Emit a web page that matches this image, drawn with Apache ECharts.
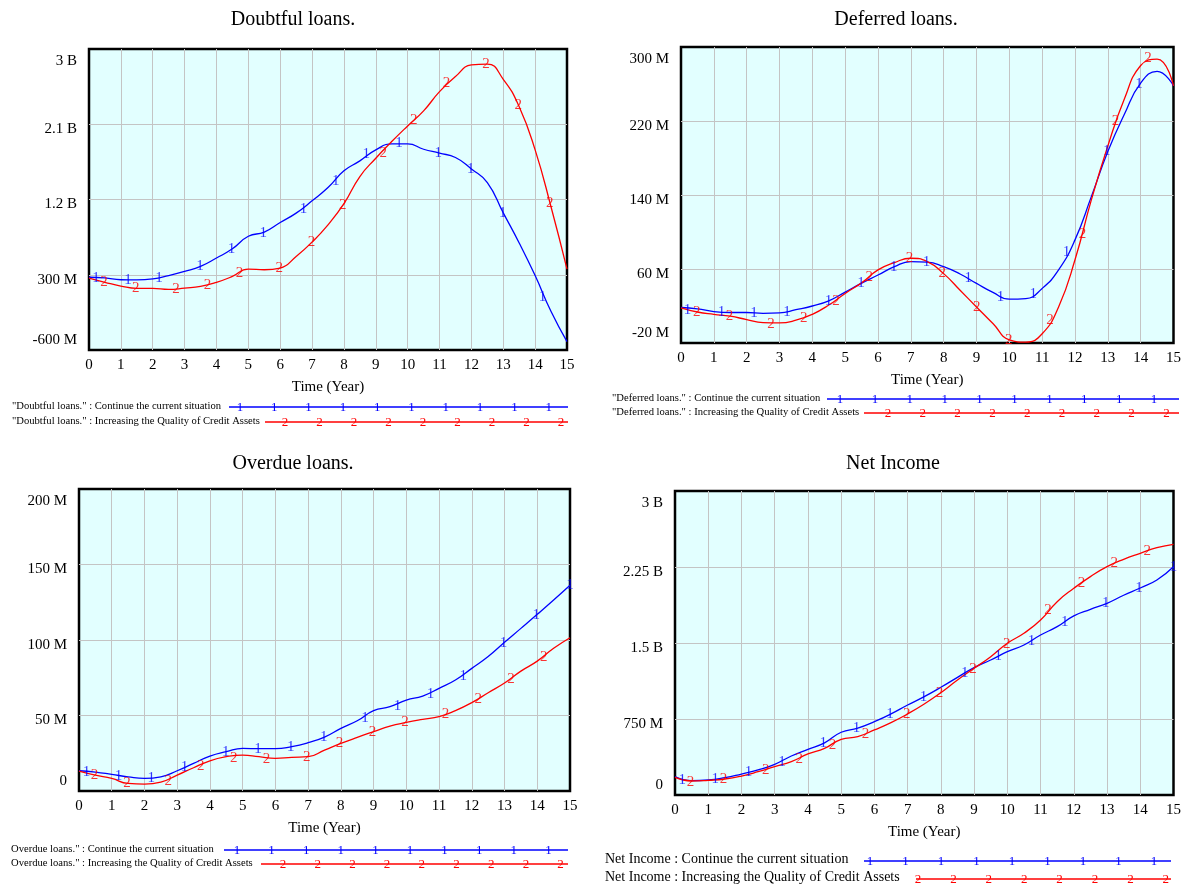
<!DOCTYPE html>
<html><head><meta charset="utf-8">
<script src="https://cdn.jsdelivr.net/npm/echarts@6/dist/echarts.min.js"></script>
<style>html,body{margin:0;padding:0;background:#fff}#c{width:1184px;height:886px}</style>
</head><body><div id="c"></div>
<script>
// ---------- DATA (values in millions) ----------
var times = [0,0.5,1,1.5,2,2.5,3,3.5,4,4.5,5,5.5,6,6.5,7,7.5,8,8.5,9,9.5,10,10.5,11,11.5,12,12.5,13,13.5,14,14.5,15];
var xTicks = ['0','1','2','3','4','5','6','7','8','9','10','11','12','13','14','15'];

// Doubtful loans
var doubtfulCurrent = [270,262,240,238,250,290,340,400,500,610,760,810,925,1037,1184,1343,1543,1662,1793,1865,1865,1801,1754,1702,1566,1403,1040,680,290,-140,-500];
var doubtfulQuality = [260,210,165,137,137,125,140,160,209,280,368,360,380,519,690,897,1150,1475,1694,1893,2080,2260,2490,2670,2809,2820,2638,2310,1793,1110,368];
var doubtfulCurMarkT = [0.22,1.22,2.2,3.48,4.47,5.47,6.73,7.74,8.7,9.73,10.96,11.98,12.98,14.23];
var doubtfulCurMarkV = [265,237,256,400,607,802,1085,1423,1746,1873,1754,1566,1037,33];
var doubtfulQuaMarkT = [0.47,1.47,2.73,3.72,4.72,5.97,6.98,7.96,9.23,10.19,11.22,12.46,13.47,14.46];
var doubtfulQuaMarkV = [213,137,129,173,320,380,690,1136,1754,2152,2590,2821,2327,1156];
var doubtfulTickV = [-600,300,1200,2100,3000];
var doubtfulTickL = ['-600 M','300 M','1.2 B','2.1 B','3 B'];

// Deferred loans
var deferredCurrent = [18.4,17,14,13,13,12,12.5,16,20,25.6,35,44.7,53.5,62.5,68,67.5,62.5,54.6,44.4,34.7,27.4,28,39,59,91.5,138.5,187,227,261,273.6,258];
var deferredQuality = [18,13.5,11,9,5.3,2,1.7,4.6,11,21,33.6,45,59,67,71.6,68,55,37,19,1,-16.5,-19,-10,19,70,135,193,243.5,280,287,258];
var deferredCurMarkT = [0.2,1.23,2.22,3.23,4.49,5.48,6.48,7.48,8.75,9.73,10.73,11.74,12.97,13.95];
var deferredCurMarkV = [16,13,12.6,13.7,25.6,44.4,62.5,67.6,50,30,33,78,187,260];
var deferredQuaMarkT = [0.48,1.48,2.74,3.74,4.72,5.73,6.96,7.96,9.01,9.98,11.24,12.23,13.23,14.22];
var deferredQuaMarkV = [13.7,9,1,7.5,25.2,51,71.6,55.3,19,-16.4,5.3,97.6,220,288];
var deferredTickV = [-20,60,140,220,300];
var deferredTickL = ['-20 M','60 M','140 M','220 M','300 M'];

// Overdue loans
var overdueCurrent = [13.4,12.5,11,9.4,8.4,9.4,13.4,18.3,23.1,26,28.2,28,28,29.4,32,35.7,41.5,46.5,53.2,55.8,60.2,62.9,68,73.5,81.2,89,98.5,107.7,117,126.5,136.3];
var overdueQuality = [13.2,10.5,8.3,5,4.6,5.9,10.5,15.4,20,22.7,23.8,22.7,21.6,22.3,22.7,27.1,31.5,35.5,39.3,43,45.4,47.4,49.2,53.2,58.5,65.1,71.5,79.4,86,94.5,101.5];
var overdueCurMarkT = [0.23,1.21,2.21,3.22,4.48,5.47,6.47,7.48,8.74,9.73,10.74,11.74,12.97,13.97,15];
var overdueCurMarkV = [12.3,10.1,8.4,16,26,27.8,29.3,35.5,48.5,56.5,64.2,76.4,97.8,116.5,136.3];
var overdueQuaMarkT = [0.47,1.47,2.73,3.72,4.73,5.73,6.96,7.96,8.97,9.96,11.2,12.2,13.2,14.2];
var overdueQuaMarkV = [10.5,5,6.8,16.7,22,21.2,22.7,31.5,39.3,45.4,50.7,60.9,74.1,88.9];
var overdueTickV = [0,50,100,150,200];
var overdueTickL = ['0','50 M','100 M','150 M','200 M'];

// Net Income
var netCurrent = [181,142,148,171,207,247,303,385,451,515,619,660,724,800,888,971,1063,1161,1257,1332,1415,1480,1579,1661,1767,1832,1892,1971,2043,2122,2253];
var netQuality = [174,138,145,158,187,230,280,329,405,460,550,576,642,714,800,898,1010,1135,1250,1365,1497,1596,1727,1908,2040,2155,2253,2326,2385,2441,2474];
var netCurMarkT = [0.22,1.21,2.21,3.22,4.46,5.46,6.47,7.48,8.72,9.73,10.73,11.73,12.96,13.96,15];
var netCurMarkV = [148,158,224,329,510,658,800,971,1201,1372,1523,1711,1892,2040,2253];
var netQuaMarkT = [0.47,1.46,2.73,3.74,4.74,5.73,6.97,7.96,8.97,9.98,11.22,12.23,13.22,14.21];
var netQuaMarkV = [132,155,247,352,494,602,796,1004,1240,1487,1826,2096,2286,2408];
var netTickV = [0,750,1500,2250,3000];
var netTickL = ['0','750 M','1.5 B','2.25 B','3 B'];

var titles = ['Doubtful loans.','Deferred loans.','Overdue loans.','Net Income'];
var legendTexts = [
  ['"Doubtful loans." : Continue the current situation','"Doubtful loans." : Increasing the Quality of Credit Assets'],
  ['"Deferred loans." : Continue the current situation','"Deferred loans." : Increasing the Quality of Credit Assets'],
  ['Overdue loans." : Continue the current situation','Overdue loans." : Increasing the Quality of Credit Assets'],
  ['Net Income : Continue the current situation','Net Income : Increasing the Quality of Credit Assets']
];

// ---------- BUILD ----------
var FONT = 'Liberation Serif';
var BLUE = '#0000ff', RED = '#ff0000';
function pairs(xs, ys){ return xs.map(function(x,i){ return [x, ys[i]]; }); }

var panels = [
  {grid:{left:89,top:49,width:478,height:301}, tv:doubtfulTickV, tl:doubtfulTickL, c:doubtfulCurrent, q:doubtfulQuality, cmt:doubtfulCurMarkT, cmv:doubtfulCurMarkV, qmt:doubtfulQuaMarkT, qmv:doubtfulQuaMarkV},
  {grid:{left:681,top:47,width:494,height:296}, tv:deferredTickV, tl:deferredTickL, c:deferredCurrent, q:deferredQuality, cmt:deferredCurMarkT, cmv:deferredCurMarkV, qmt:deferredQuaMarkT, qmv:deferredQuaMarkV},
  {grid:{left:79,top:489,width:491,height:302}, tv:overdueTickV, tl:overdueTickL, c:overdueCurrent, q:overdueQuality, cmt:overdueCurMarkT, cmv:overdueCurMarkV, qmt:overdueQuaMarkT, qmv:overdueQuaMarkV},
  {grid:{left:675,top:491,width:500,height:304}, tv:netTickV, tl:netTickL, c:netCurrent, q:netQuality, cmt:netCurMarkT, cmv:netCurMarkV, qmt:netQuaMarkT, qmv:netQuaMarkV}
];

var grids=[], xAxes=[], yAxes=[], series=[];
var splitStyle = {show:true, showMinLine:false, showMaxLine:false, lineStyle:{color:'#c4c4c4', width:1}};
panels.forEach(function(p, i){
  grids.push(Object.assign({show:true, backgroundColor:'#e2ffff', borderColor:'#000', borderWidth:2.5, z:0}, p.grid));
  xAxes.push({type:'value', gridIndex:i, min:0, max:15, interval:1,
    name:'Time (Year)', nameLocation:'middle', nameGap:30,
    nameTextStyle:{fontFamily:FONT, fontSize:15, color:'#000'},
    axisLine:{show:false}, axisTick:{show:false},
    axisLabel:{fontFamily:FONT, fontSize:15, color:'#000', margin:8, formatter:function(v){ return xTicks[Math.round(v)]; }},
    splitLine:splitStyle});
  var tv = p.tv, tl = p.tl;
  yAxes.push({type:'value', gridIndex:i, min:tv[0], max:tv[tv.length-1], interval:tv[1]-tv[0],
    axisLine:{show:false}, axisTick:{show:false},
    axisLabel:{fontFamily:FONT, fontSize:15, color:'#000', margin:12,
      formatter:function(v){
        var k = -1; for (var j=0;j<tv.length;j++){ if (Math.abs(tv[j]-v) < 1e-6) k=j; }
        if (k<0) return '';
        if (k===tv.length-1) return '{t|'+tl[k]+'}';
        if (k===0) return '{b|'+tl[k]+'}';
        return '{m|'+tl[k]+'}';
      },
      rich:{
        t:{fontFamily:FONT, fontSize:15, color:'#000', padding:[24,0,0,0]},
        m:{fontFamily:FONT, fontSize:15, color:'#000', padding:[10,0,0,0]},
        b:{fontFamily:FONT, fontSize:15, color:'#000', padding:[0,0,20,0]}
      }},
    splitLine:splitStyle});
  series.push({type:'line', xAxisIndex:i, yAxisIndex:i, data:pairs(times,p.c), showSymbol:false, smooth:0.5, lineStyle:{color:BLUE, width:1.3}, z:3});
  series.push({type:'line', xAxisIndex:i, yAxisIndex:i, data:pairs(times,p.q), showSymbol:false, smooth:0.5, lineStyle:{color:RED, width:1.3}, z:3});
  series.push({type:'scatter', xAxisIndex:i, yAxisIndex:i, data:pairs(p.cmt,p.cmv), symbol:'circle', symbolSize:2, itemStyle:{color:'rgba(0,0,0,0)'}, z:4, clip:true,
    label:{show:true, position:'inside', formatter:'1', fontFamily:FONT, fontSize:15, color:BLUE}});
  series.push({type:'scatter', xAxisIndex:i, yAxisIndex:i, data:pairs(p.qmt,p.qmv), symbol:'circle', symbolSize:2, itemStyle:{color:'rgba(0,0,0,0)'}, z:4, clip:true,
    label:{show:true, position:'inside', formatter:'2', fontFamily:FONT, fontSize:15, color:RED}});
});

var titleArr = [
  {text:titles[0], left:293, top:10},
  {text:titles[1], left:896, top:10},
  {text:titles[2], left:293, top:454},
  {text:titles[3], left:893, top:454}
].map(function(t){ return Object.assign(t, {textAlign:'center', padding:0, textStyle:{fontFamily:FONT, fontWeight:'normal', fontSize:20, color:'#000'}}); });

// legend graphics
var graphics = [];
function legendRow(textX, y, text, fs, lx1, lx2, mx0, mstep, mcount, color, ch){
  graphics.push({type:'text', left:textX, top:y - fs*0.6, style:{text:text, fontFamily:FONT, fontSize:fs, fill:'#000'}});
  graphics.push({type:'line', shape:{x1:lx1, y1:y, x2:lx2, y2:y}, style:{stroke:color, lineWidth:1.3}});
  for (var k=0;k<mcount;k++){
    graphics.push({type:'text', x:mx0 + k*mstep, y:y + 1, style:{text:ch, fontFamily:FONT, fontSize:13, fill:color, align:'center', verticalAlign:'middle'}});
  }
}
legendRow(12, 407, legendTexts[0][0], 10.6, 229, 568, 240, 34.3, 10, BLUE, '1');
legendRow(12, 422, legendTexts[0][1], 10.6, 265, 568, 285, 34.5, 9, RED, '2');
legendRow(612, 399, legendTexts[1][0], 10.6, 827, 1179, 840, 34.9, 10, BLUE, '1');
legendRow(612, 413, legendTexts[1][1], 10.6, 864, 1179, 888, 34.8, 9, RED, '2');
legendRow(11, 850, legendTexts[2][0], 10.6, 224, 568, 237, 34.6, 10, BLUE, '1');
legendRow(11, 864, legendTexts[2][1], 10.6, 261, 568, 283, 34.7, 9, RED, '2');
legendRow(605, 861, legendTexts[3][0], 14, 864, 1171, 870, 35.5, 9, BLUE, '1');
legendRow(605, 879, legendTexts[3][1], 14, 916, 1171, 918, 35.4, 8, RED, '2');

var chart = echarts.init(document.getElementById('c'), null, {renderer:'canvas'});
chart.setOption({
  animation:false,
  backgroundColor:'#fff',
  title:titleArr,
  grid:grids, xAxis:xAxes, yAxis:yAxes, series:series,
  graphic:graphics
});
</script></body></html>
